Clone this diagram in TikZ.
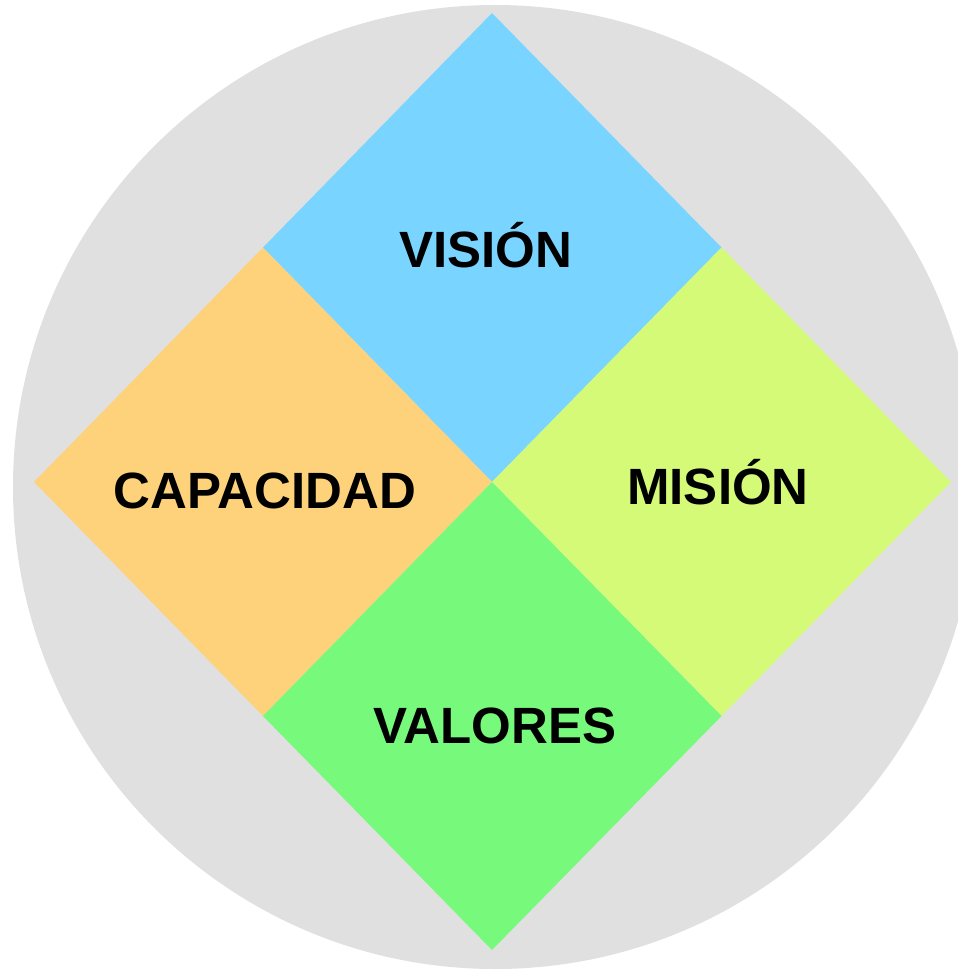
\documentclass[tikz,border=0pt]{standalone}
\usepackage{fontspec}
\setmainfont{Liberation Sans}
\definecolor{bgcircle}{HTML}{E0E0E0}
\definecolor{visionblue}{HTML}{79D5FF}
\definecolor{capacidadorange}{HTML}{FED27B}
\definecolor{misionlime}{HTML}{D4FA78}
\definecolor{valoresgreen}{HTML}{77FA7B}
\begin{document}
\begin{tikzpicture}[x=1pt,y=-1pt,
  label/.style={anchor=base,inner sep=0pt,font=\fontsize{51}{60}\selectfont\bfseries,text=black}]
  \useasboundingbox (0,0) rectangle (958,970);
  \clip (0,0) rectangle (958,970);
  % background disc
  \fill[bgcircle] (495,487) ellipse [x radius=482, y radius=482];
  % diamond corner points
  \coordinate (C) at (492,482);
  \coordinate (T) at (492,13);
  \coordinate (B) at (492,950);
  \coordinate (L) at (34,482);
  \coordinate (R) at (951,482);
  \coordinate (TL) at (263,247.5);
  \coordinate (TR) at (721.5,247.5);
  \coordinate (BL) at (263,716);
  \coordinate (BR) at (721.5,716);
  % four quadrants
  \fill[visionblue] (T) -- (TR) -- (C) -- (TL) -- cycle;
  \fill[capacidadorange] (TL) -- (C) -- (BL) -- (L) -- cycle;
  \fill[misionlime] (TR) -- (R) -- (BR) -- (C) -- cycle;
  \fill[valoresgreen] (C) -- (BR) -- (B) -- (BL) -- cycle;
  % labels
  \node[label] (vision) at (486,267) {VISIÓN};
  \node[label] (capacidad) at (265,508) {CAPACIDAD};
  \node[label] (mision) at (718,504) {MISIÓN};
  \node[label] (valores) at (495,743) {VALORES};
\end{tikzpicture}
\end{document}
